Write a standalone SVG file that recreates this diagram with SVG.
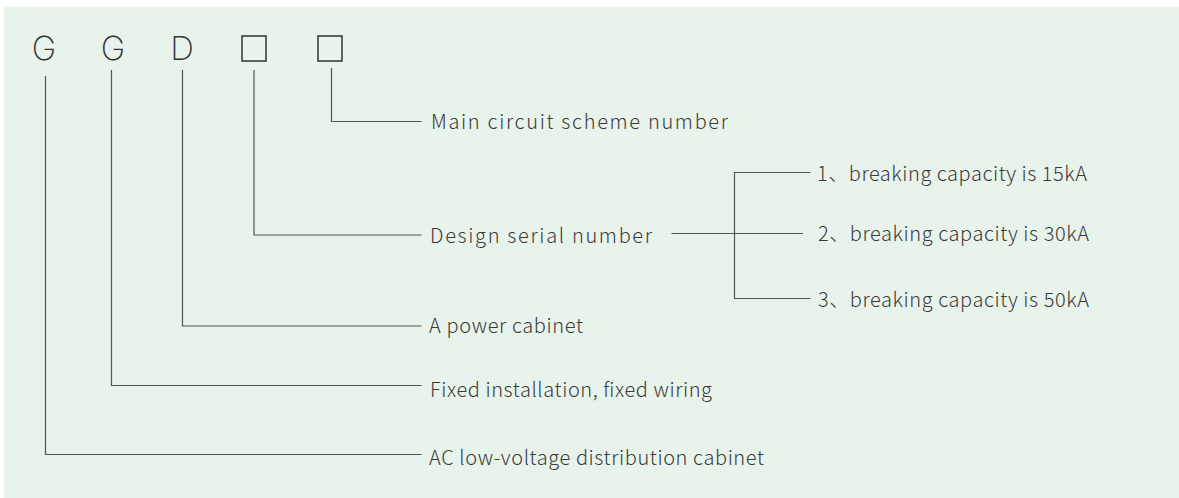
<svg xmlns="http://www.w3.org/2000/svg" width="1179" height="498" viewBox="0 0 1179 498">
<style>
.bg{fill:#e8f3ec}
.letter{font-family:Inter,"Liberation Sans",Arial,sans-serif;font-size:33px;fill:#333;text-anchor:middle;font-weight:200}
.box{fill:none;stroke:#333;stroke-width:1.5}
.lbl{font-family:"Noto Sans CJK SC","Noto Sans",sans-serif;font-size:20px;fill:#3a3a3a;font-weight:300}
.ln{fill:none;stroke:#555;stroke-width:1.2}
</style>
<rect class="bg" x="4" y="7" width="1175" height="491"/>
<g id="code">
<g id="n-g1"><text class="letter" x="44" y="60">G</text></g>
<g id="n-g2"><text class="letter" x="113" y="60">G</text></g>
<g id="n-d"><text class="letter" x="182" y="60">D</text></g>
<g id="n-box1"><rect class="box" x="242" y="36" width="24" height="25"/></g>
<g id="n-box2"><rect class="box" x="318" y="36" width="24" height="25"/></g>
</g>
<g id="connectors">
<polyline class="ln" points="331.5,68 331.5,121.5 421.5,121.5"/>
<polyline class="ln" points="254,70 254,235 421.5,235"/>
<polyline class="ln" points="182.5,70 182.5,326 421.5,326"/>
<polyline class="ln" points="111.5,70 111.5,385.5 421.5,385.5"/>
<polyline class="ln" points="45.5,76 45.5,454.5 421.5,454.5"/>
<line class="ln" x1="671.5" y1="233.5" x2="803" y2="233.5"/>
<polyline class="ln" points="810.5,172.5 734.5,172.5 734.5,298.5 810.5,298.5"/>
</g>
<g id="n-main"><text class="lbl" x="431" y="129" textLength="297" lengthAdjust="spacing">Main circuit scheme number</text></g>
<g id="n-design"><text class="lbl" x="430" y="243" textLength="222" lengthAdjust="spacing">Design serial number</text></g>
<g id="n-power"><text class="lbl" x="429" y="333" textLength="154" lengthAdjust="spacing">A power cabinet</text></g>
<g id="n-fixed"><text class="lbl" x="430" y="397" textLength="282" lengthAdjust="spacing">Fixed installation, fixed wiring</text></g>
<g id="n-ac"><text class="lbl" x="429" y="465" textLength="335" lengthAdjust="spacing">AC low-voltage distribution cabinet</text></g>
<g id="n-b1"><text class="lbl" x="817" y="181" textLength="270" lengthAdjust="spacing">1、breaking capacity is 15kA</text></g>
<g id="n-b2"><text class="lbl" x="818" y="241" textLength="271" lengthAdjust="spacing">2、breaking capacity is 30kA</text></g>
<g id="n-b3"><text class="lbl" x="818" y="307" textLength="271" lengthAdjust="spacing">3、breaking capacity is 50kA</text></g>
</svg>
